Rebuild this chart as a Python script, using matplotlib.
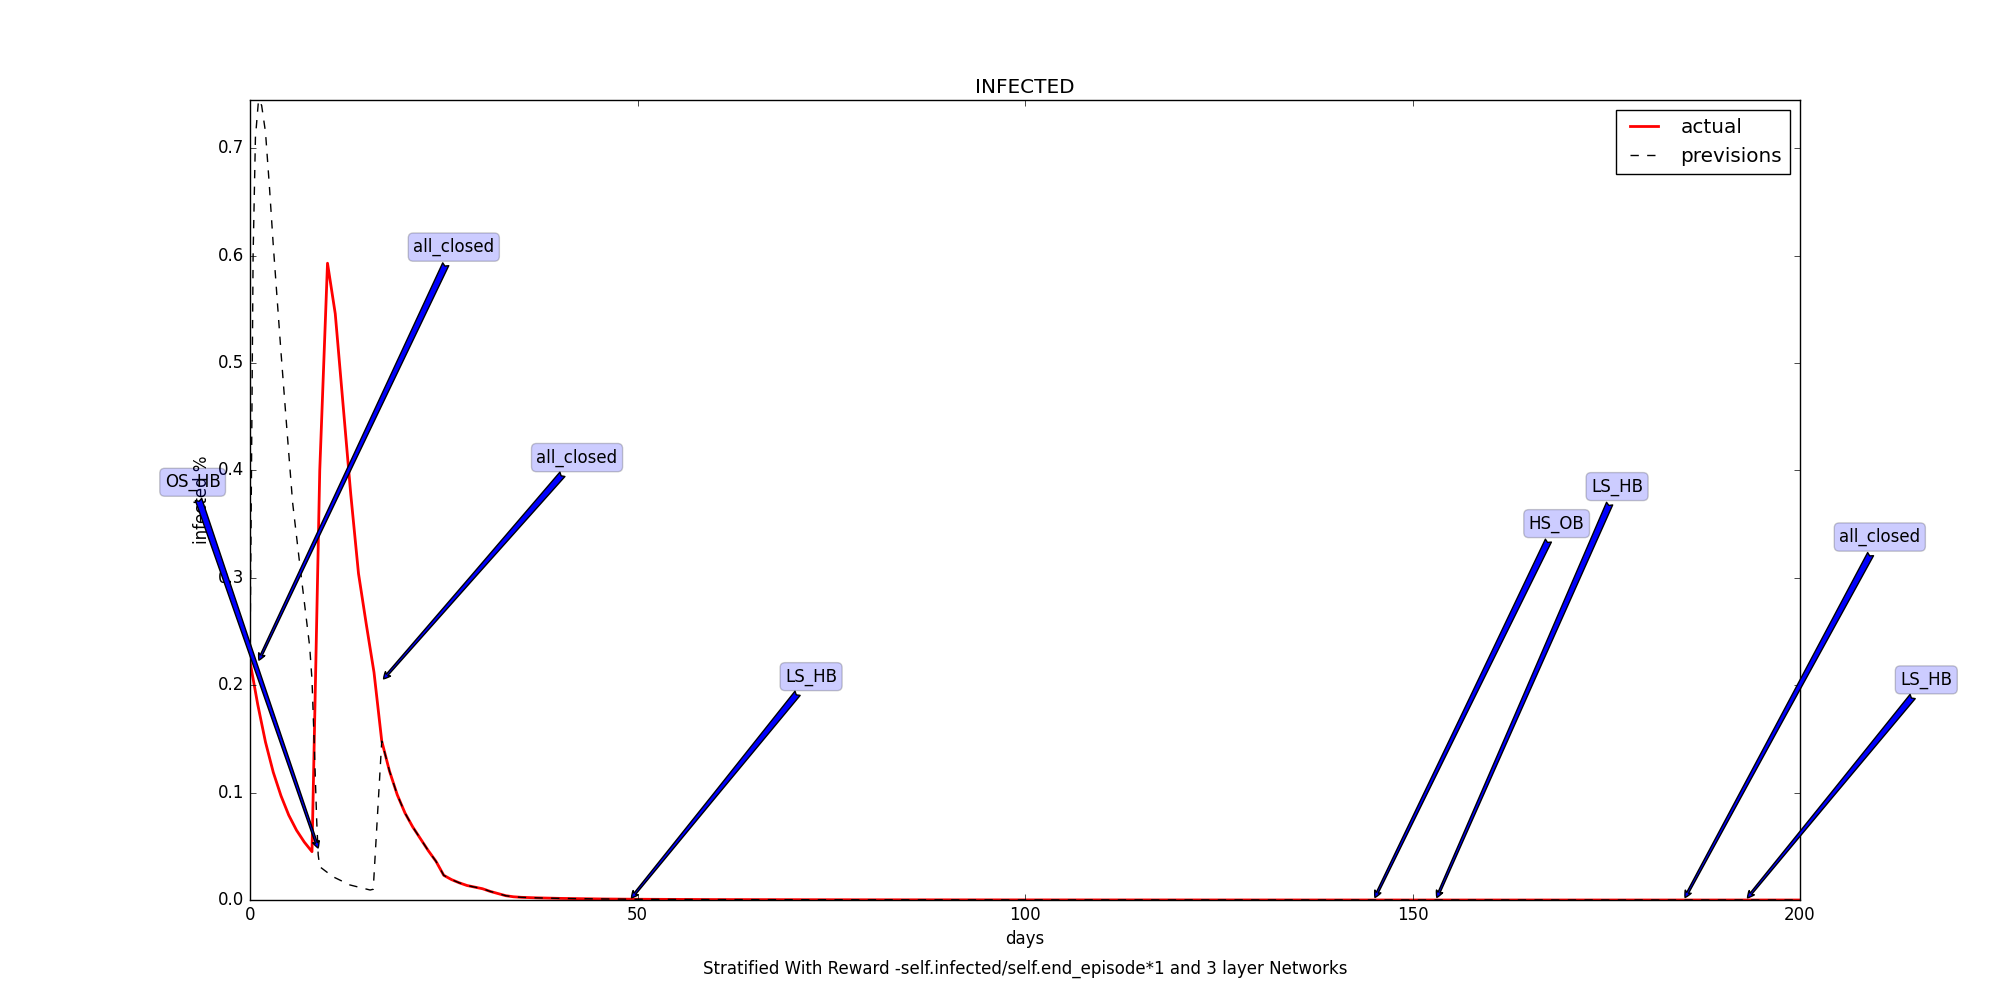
import numpy as np
import matplotlib
matplotlib.use('Agg')
import matplotlib.pyplot as plt

# actual infected fraction
days_actual = [0, 1, 2, 3, 4, 5, 6, 7, 8, 9, 10, 11, 12, 13, 14, 15, 16, 17,
               18, 19, 20, 21, 22, 23, 24, 25, 26, 27, 28, 29, 30, 31, 32, 33,
               34, 35, 37, 40, 45, 50, 60, 80, 100, 150, 200]
actual = [0.222, 0.182, 0.147, 0.119, 0.097, 0.079, 0.065, 0.054, 0.045, 0.40,
          0.593, 0.546, 0.462, 0.378, 0.304, 0.257, 0.212, 0.148,
          0.12, 0.098, 0.081, 0.068, 0.057, 0.046, 0.036, 0.023, 0.019, 0.016,
          0.0135, 0.012, 0.0105, 0.008, 0.006, 0.004,
          0.003, 0.0025, 0.002, 0.0015, 0.001, 0.0007, 0.0004, 0.0002, 0.0001, 0.0, 0.0]

# previsions
days_prev = [0, 0.15, 0.4, 0.7, 1.1, 1.5, 2.0, 2.5, 3.0, 4.0, 4.7, 5.5, 6.4, 7.7,
             8.0, 8.3, 8.6, 8.8, 9.0, 10.7, 12.9, 15.5, 15.9, 17,
             18, 19, 20, 21, 22, 23, 24, 25, 26, 27, 28, 29, 30, 31, 32, 33,
             34, 35, 37, 40, 45, 50, 60, 80, 100, 150, 200]
prev = [0.222, 0.36, 0.6, 0.71, 0.745, 0.74, 0.715, 0.665, 0.61, 0.51, 0.444,
        0.37, 0.314, 0.236, 0.205, 0.143, 0.075, 0.042, 0.031, 0.0217, 0.014,
        0.0093, 0.01, 0.148,
        0.12, 0.098, 0.081, 0.068, 0.057, 0.046, 0.036, 0.023, 0.019, 0.016,
        0.0135, 0.012, 0.0105, 0.008, 0.006, 0.004,
        0.003, 0.0025, 0.002, 0.0015, 0.001, 0.0007, 0.0004, 0.0002, 0.0001, 0.0, 0.0]

# actions annotated on the chart
note_labels = ['OS_HB', 'all_closed', 'all_closed', 'LS_HB', 'HS_OB', 'LS_HB', 'all_closed', 'LS_HB']
note_days = [8.9, 1.0, 17.0, 49, 145, 153, 185, 193]
note_vals = [0.046, 0.221, 0.204, 0.0, 0.0, 0.0, 0.0, 0.0]
note_text_x = [-7.4, 26.3, 42.2, 72.4, 168.6, 176.4, 210.3, 216.3]
note_text_y = [0.389, 0.608, 0.412, 0.208, 0.3505, 0.385, 0.338, 0.205]

plt.style.use('classic')
fig = plt.figure(figsize=(20, 10), dpi=100)
ax = fig.add_subplot(111)

ax.plot(days_actual, actual, color='red', linewidth=2, label='actual')
ax.plot(days_prev, prev, color='black', linestyle='--', linewidth=1, label='previsions')

for lab, d, v, tx, ty in zip(note_labels, note_days, note_vals, note_text_x, note_text_y):
    ax.annotate(lab, xy=(d, v), xytext=(tx, ty), ha='center', va='center',
                bbox=dict(boxstyle='round', fc='blue', alpha=0.2),
                arrowprops=dict(arrowstyle='fancy', fc='blue', ec='black'))

ax.set_xlim(0, 200)
ax.set_ylim(0, 0.745)
ax.set_title('INFECTED')
ax.set_xlabel('days')
ax.set_ylabel('infected %')
ax.legend(loc='upper right')
ax.text(0.5, -0.086, 'Stratified With Reward -self.infected/self.end_episode*1 and 3 layer Networks',
        ha='center', va='center', transform=ax.transAxes)

plt.savefig('out.png', dpi=100)
